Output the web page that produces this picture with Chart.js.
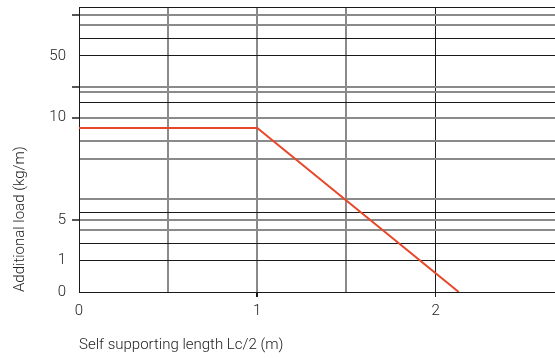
<!DOCTYPE html>
<html>
<head>
<meta charset="utf-8">
<script src="https://cdn.jsdelivr.net/npm/chart.js@4.4.0/dist/chart.umd.min.js"></script>
<style>
  html, body { margin: 0; padding: 0; background: #fff; }
  #wrap { width: 555px; height: 358px; }
</style>
</head>
<body>
<div id="wrap"><canvas id="chart"></canvas></div>
<script>
// y axis of the original drawing is not linear, so values are kept
// as positions on a 0..100 axis (0 = "0" line, 100 = top border)
const yGridLines = [0, 10.98, 17.19, 21.61, 25.12, 27.93, 32.49, 46.67, 53.09,
  61.16, 66.32, 70.18, 71.93, 82.81, 89.12, 93.54, 97.19, 100];
const yLabelValues = [0, 10.98, 25.12, 61.16, 82.81];
const yTickLabels = ["0", "1", "5", "10", "50"];
const yTickMarks = [25.12, 61.16, 71.93, 97.19];

const xGridLines = [0, 0.5, 1, 1.5, 2];
const xLabelValues = [0, 1, 2];
const xTickLabels = ["0", "1", "2"];
const xTickMarks = [1, 2];

// the red limit line
const lengthX = [0, 1, 2.13];
const loadY = [57.54, 57.54, 0];

// lines that look lighter / wider in the scan
const ySoft = [21.61, 25.12, 32.49, 46.67, 53.09, 61.16, 70.18, 71.93, 93.54, 97.19];
const xSoft = [0.5, 1, 1.5];

const fontFam = "Roboto, 'Liberation Sans', Arial, sans-serif";
const textColor = "#222";
const darkLine = "#1a1a1a";
const softLine = "#8a8a8a";

const isSoft = (list, ctx) => ctx.tick && list.includes(ctx.tick.value);

const chartConfig = {
  type: "line",
  data: {
    datasets: [
      {
        data: lengthX.map((x, i) => ({ x: x, y: loadY[i] })),
        borderColor: "#e8472a",
        borderWidth: 2,
        pointRadius: 0,
        tension: 0,
      },
    ],
  },
  options: {
    responsive: true,
    maintainAspectRatio: false,
    animation: false,
    layout: { padding: { top: 7, right: 0, left: 0, bottom: 0 } },
    plugins: { legend: { display: false }, tooltip: { enabled: false } },
    scales: {
      x: {
        type: "linear",
        min: 0,
        max: 2.67,
        afterBuildTicks: (s) => {
          s.ticks = xGridLines.map((v) => ({ value: v }));
        },
        afterFit: (s) => {
          s.height = 66;
          s.paddingLeft = 0;
          s.paddingRight = 0;
        },
        ticks: {
          autoSkip: false,
          maxRotation: 0,
          padding: 5,
          color: textColor,
          font: { family: fontFam, size: 15, weight: 300 },
          callback: (v) => {
            const i = xLabelValues.indexOf(v);
            return i >= 0 ? xTickLabels[i] : "";
          },
        },
        grid: {
          color: (ctx) => (isSoft(xSoft, ctx) ? softLine : darkLine),
          lineWidth: (ctx) => (isSoft(xSoft, ctx) ? 2 : 1),
          tickLength: 5,
          tickColor: (ctx) =>
            ctx.tick && xTickMarks.includes(ctx.tick.value) ? darkLine : "rgba(0,0,0,0)",
        },
        border: { color: darkLine },
        title: {
          display: true,
          text: "Self supporting length Lc/2 (m)",
          align: "start",
          color: textColor,
          font: { family: fontFam, size: 15, weight: 300 },
          padding: { top: 0, bottom: 4 },
        },
      },
      y: {
        type: "linear",
        min: 0,
        max: 100,
        afterBuildTicks: (s) => {
          s.ticks = yGridLines.map((v) => ({ value: v }));
        },
        afterFit: (s) => {
          s.width = 79;
          s.paddingTop = 0;
          s.paddingBottom = 0;
        },
        ticks: {
          autoSkip: false,
          padding: 6,
          color: textColor,
          font: { family: fontFam, size: 15, weight: 300 },
          callback: (v) => {
            const i = yLabelValues.indexOf(v);
            return i >= 0 ? yTickLabels[i] : "";
          },
        },
        grid: {
          color: (ctx) => (isSoft(ySoft, ctx) ? softLine : darkLine),
          lineWidth: (ctx) => (isSoft(ySoft, ctx) ? 2 : 1),
          tickLength: 7,
          tickColor: (ctx) =>
            ctx.tick && yTickMarks.includes(ctx.tick.value) ? "#555" : "rgba(0,0,0,0)",
        },
        border: { color: darkLine },
        title: {
          display: true,
          text: "Additional load (kg/m)",
          align: "start",
          color: textColor,
          font: { family: fontFam, size: 15, weight: 300 },
          padding: { top: 11, bottom: 0 },
        },
      },
    },
  },
};

new Chart(document.getElementById("chart").getContext("2d"), chartConfig);
</script>
</body>
</html>
